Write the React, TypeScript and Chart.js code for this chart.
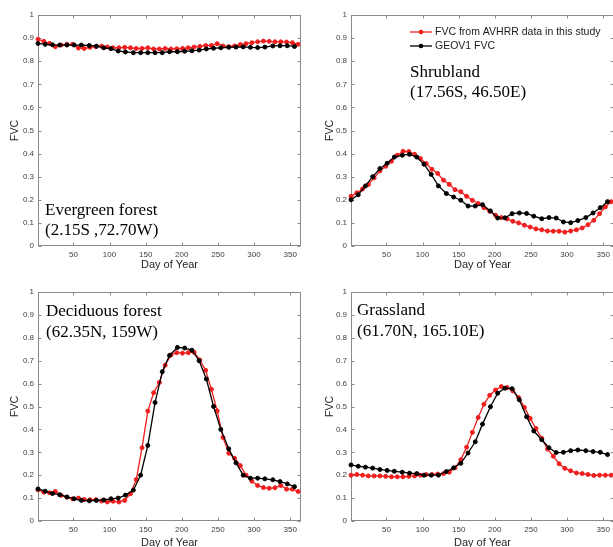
import React, { useEffect, useRef } from 'react';
import { Chart, registerables } from 'chart.js';

Chart.register(...registerables);
Chart.defaults.font.family = '"Liberation Sans", Arial, sans-serif';

// 8-day AVHRR composites
const avhrrDays = [1, 9, 17, 25, 33, 41, 49, 57, 65, 73, 81, 89, 97, 105, 113, 121, 129, 137, 145, 153, 161, 169, 177, 185, 193, 201, 209, 217, 225, 233, 241, 249, 257, 265, 273, 281, 289, 297, 305, 313, 321, 329, 337, 345, 353, 361];
// 10-day GEOV1 product
const geov1Days = [1, 11, 21, 31, 41, 51, 61, 72, 82, 92, 102, 112, 122, 133, 143, 153, 163, 173, 183, 194, 204, 214, 224, 234, 244, 254, 265, 275, 285, 295, 305, 315, 326, 336, 346, 356];

const xTicks = [50, 100, 150, 200, 250, 300, 350];
const yTicks = [0, 0.1, 0.2, 0.3, 0.4, 0.5, 0.6, 0.7, 0.8, 0.9, 1];
const yTickLabels = ['0', '0.1', '0.2', '0.3', '0.4', '0.5', '0.6', '0.7', '0.8', '0.9', '1'];
const legendLabels = ['FVC from AVHRR data in this study', 'GEOV1 FVC'];

const evergreenAvhrr = [0.895, 0.886, 0.877, 0.863, 0.870, 0.873, 0.873, 0.857, 0.855, 0.860, 0.863, 0.865, 0.862, 0.858, 0.858, 0.860, 0.858, 0.855, 0.855, 0.858, 0.853, 0.853, 0.855, 0.853, 0.854, 0.855, 0.858, 0.861, 0.864, 0.868, 0.868, 0.876, 0.866, 0.863, 0.866, 0.872, 0.876, 0.880, 0.884, 0.887, 0.886, 0.884, 0.884, 0.883, 0.880, 0.873];
const evergreenGeov1 = [0.877, 0.873, 0.871, 0.870, 0.870, 0.870, 0.870, 0.868, 0.865, 0.858, 0.854, 0.844, 0.840, 0.837, 0.837, 0.837, 0.837, 0.837, 0.841, 0.841, 0.843, 0.845, 0.848, 0.853, 0.856, 0.858, 0.860, 0.861, 0.862, 0.860, 0.859, 0.861, 0.866, 0.867, 0.867, 0.864];

const shrubAvhrr = [0.215, 0.230, 0.247, 0.266, 0.295, 0.325, 0.345, 0.367, 0.393, 0.410, 0.409, 0.397, 0.379, 0.357, 0.332, 0.314, 0.285, 0.267, 0.244, 0.235, 0.215, 0.198, 0.184, 0.166, 0.150, 0.133, 0.123, 0.117, 0.107, 0.100, 0.090, 0.082, 0.074, 0.070, 0.065, 0.064, 0.064, 0.060, 0.065, 0.070, 0.078, 0.092, 0.111, 0.140, 0.169, 0.192];
const shrubGeov1 = [0.200, 0.222, 0.260, 0.300, 0.335, 0.358, 0.385, 0.393, 0.397, 0.385, 0.354, 0.310, 0.260, 0.227, 0.212, 0.198, 0.173, 0.173, 0.179, 0.152, 0.121, 0.122, 0.140, 0.143, 0.141, 0.129, 0.118, 0.123, 0.121, 0.104, 0.101, 0.110, 0.123, 0.143, 0.166, 0.192];

const deciduousAvhrr = [0.136, 0.126, 0.123, 0.129, 0.112, 0.104, 0.097, 0.100, 0.094, 0.093, 0.093, 0.087, 0.083, 0.086, 0.083, 0.090, 0.119, 0.181, 0.320, 0.480, 0.560, 0.605, 0.680, 0.725, 0.735, 0.733, 0.735, 0.737, 0.703, 0.658, 0.575, 0.481, 0.365, 0.296, 0.274, 0.242, 0.200, 0.174, 0.155, 0.146, 0.143, 0.145, 0.155, 0.139, 0.139, 0.129];
const deciduousGeov1 = [0.140, 0.130, 0.120, 0.115, 0.105, 0.097, 0.090, 0.088, 0.090, 0.092, 0.097, 0.100, 0.113, 0.135, 0.200, 0.330, 0.517, 0.652, 0.723, 0.758, 0.755, 0.746, 0.700, 0.620, 0.500, 0.400, 0.315, 0.254, 0.200, 0.187, 0.187, 0.184, 0.180, 0.172, 0.162, 0.150];

const grassAvhrr = [0.200, 0.203, 0.200, 0.197, 0.197, 0.197, 0.195, 0.193, 0.193, 0.193, 0.195, 0.197, 0.200, 0.203, 0.203, 0.205, 0.207, 0.213, 0.232, 0.268, 0.322, 0.387, 0.452, 0.510, 0.549, 0.572, 0.587, 0.583, 0.568, 0.539, 0.496, 0.448, 0.404, 0.361, 0.314, 0.283, 0.250, 0.230, 0.219, 0.210, 0.207, 0.203, 0.199, 0.200, 0.200, 0.200];
const grassGeov1 = [0.245, 0.239, 0.235, 0.231, 0.225, 0.221, 0.217, 0.213, 0.209, 0.207, 0.200, 0.200, 0.200, 0.216, 0.232, 0.252, 0.297, 0.346, 0.423, 0.499, 0.558, 0.580, 0.578, 0.529, 0.455, 0.393, 0.355, 0.320, 0.299, 0.300, 0.307, 0.310, 0.307, 0.303, 0.300, 0.290];

const RED = '#f01e1e';
const BLACK = '#000000';

type PanelDef = {
  left: number; top: number; w: number; h: number; plotH: number;
  yTitlePad: number; tickPad: number;
  red: number[]; black: number[];
  lines: string[]; textX: number; textY: number[];
  legend: boolean;
};

const panels: PanelDef[] = [
  { left: 0, top: 0, w: 306, h: 272, plotH: 231, yTitlePad: 9, tickPad: 3.5, red: evergreenAvhrr, black: evergreenGeov1, lines: ['Evergreen forest', '(2.15S ,72.70W)'], textX: 45, textY: [215, 235], legend: false },
  { left: 313, top: 0, w: 306, h: 272, plotH: 231, yTitlePad: 11, tickPad: 3.5, red: shrubAvhrr, black: shrubGeov1, lines: ['Shrubland', '(17.56S, 46.50E)'], textX: 97, textY: [77, 97], legend: true },
  { left: 0, top: 277, w: 306, h: 273, plotH: 229, yTitlePad: 9, tickPad: 4, red: deciduousAvhrr, black: deciduousGeov1, lines: ['Deciduous forest', '(62.35N, 159W)'], textX: 46, textY: [39, 60], legend: false },
  { left: 313, top: 277, w: 306, h: 273, plotH: 229, yTitlePad: 11, tickPad: 4, red: grassAvhrr, black: grassGeov1, lines: ['Grassland', '(61.70N, 165.10E)'], textX: 44, textY: [38, 59], legend: false },
];

const boxPlugin = {
  id: 'boxTicks',
  beforeDatasetsDraw(chart: any) {
    const { ctx, chartArea: a, scales } = chart;
    const L = Math.round(a.left) + 0.5;
    const R = Math.round(a.right) - 0.5;
    const T = Math.round(a.top) + 0.5;
    const B = Math.round(a.bottom) - 0.5;
    ctx.save();
    ctx.strokeStyle = '#8a8a8a';
    ctx.lineWidth = 1;
    ctx.strokeRect(L, T, R - L, B - T);
    ctx.beginPath();
    scales.x.ticks.forEach((t: any) => {
      const px = Math.round(scales.x.getPixelForValue(t.value)) + 0.5;
      ctx.moveTo(px, B); ctx.lineTo(px, B - 3);
      ctx.moveTo(px, T); ctx.lineTo(px, T + 3);
    });
    scales.y.ticks.forEach((t: any) => {
      const py = Math.round(scales.y.getPixelForValue(t.value)) + 0.5;
      ctx.moveTo(L, py); ctx.lineTo(L + 3, py);
      ctx.moveTo(R, py); ctx.lineTo(R - 3, py);
    });
    ctx.stroke();
    ctx.restore();
  },
};

function Panel({ p }: { p: PanelDef }) {
  const ref = useRef<HTMLCanvasElement>(null);
  useEffect(() => {
    if (!ref.current) return;
    const decor = {
      id: 'panelDecor',
      afterDatasetsDraw(chart: any) {
        const ctx = chart.ctx;
        ctx.save();
        ctx.fillStyle = '#000';
        ctx.textAlign = 'left';
        ctx.textBaseline = 'alphabetic';
        ctx.font = '17px "Liberation Serif", "Times New Roman", serif';
        p.lines.forEach((t, i) => ctx.fillText(t, p.textX, p.textY[i]));
        if (p.legend) {
          const colors = [RED, BLACK];
          const rows = [32, 46];
          ctx.font = '10.5px "Liberation Sans", Arial, sans-serif';
          ctx.textBaseline = 'middle';
          chart.data.datasets.forEach((ds: any, i: number) => {
            const y = rows[i];
            ctx.strokeStyle = colors[i];
            ctx.fillStyle = colors[i];
            ctx.lineWidth = 1.3;
            ctx.beginPath();
            ctx.moveTo(97, y); ctx.lineTo(119, y);
            ctx.stroke();
            ctx.beginPath();
            ctx.arc(108, y, 2.3, 0, Math.PI * 2);
            ctx.fill();
            ctx.fillStyle = '#1a1a1a';
            ctx.fillText(ds.label, 122, y);
          });
        }
        ctx.restore();
      },
    };
    const chart = new Chart(ref.current, {
      type: 'line',
      data: {
        datasets: [
          {
            label: legendLabels[0],
            data: avhrrDays.map((d, i) => ({ x: d, y: p.red[i] })),
            borderColor: RED, backgroundColor: RED,
            pointBackgroundColor: RED, pointBorderColor: RED,
            borderWidth: 1.3, pointRadius: 2, pointBorderWidth: 1,
            tension: 0, clip: false as any, order: 1,
          },
          {
            label: legendLabels[1],
            data: geov1Days.map((d, i) => ({ x: d, y: p.black[i] })),
            borderColor: BLACK, backgroundColor: BLACK,
            pointBackgroundColor: BLACK, pointBorderColor: BLACK,
            borderWidth: 1.3, pointRadius: 2, pointBorderWidth: 1,
            tension: 0, clip: false as any, order: 0,
          },
        ],
      },
      options: {
        responsive: false,
        animation: false,
        devicePixelRatio: 1,
        events: [],
        layout: { padding: { left: 0, top: 15, right: 5, bottom: 0 } },
        plugins: { legend: { display: false }, tooltip: { enabled: false } },
        scales: {
          x: {
            type: 'linear', min: 1, max: 365,
            grid: { display: false, drawTicks: false }, border: { display: false },
            afterBuildTicks: (s: any) => { s.ticks = xTicks.map((v) => ({ value: v })); },
            afterFit: (s: any) => { s.height = p.h - 15 - p.plotH; },
            ticks: { padding: p.tickPad, color: '#404040', font: { size: 8 }, maxRotation: 0, autoSkip: false, callback: (v: any) => String(v) },
            title: { display: true, text: 'Day of Year', color: '#262626', font: { size: 11 }, padding: { top: 0, bottom: 0 } },
          },
          y: {
            type: 'linear', min: 0, max: 1,
            grid: { display: false, drawTicks: false }, border: { display: false },
            afterBuildTicks: (s: any) => { s.ticks = yTicks.map((v) => ({ value: v })); },
            afterFit: (s: any) => { s.width = 38; },
            ticks: { padding: 4, color: '#404040', font: { size: 8 }, autoSkip: false, callback: (_v: any, i: number) => yTickLabels[i] },
            title: { display: true, text: 'FVC', color: '#262626', font: { size: 10.5 }, padding: { top: p.yTitlePad, bottom: 0 } },
          },
        },
      } as any,
      plugins: [boxPlugin, decor],
    });
    return () => chart.destroy();
  }, []);
  return (
    <canvas
      ref={ref}
      width={p.w}
      height={p.h}
      style={{ position: 'absolute', left: p.left, top: p.top, width: p.w, height: p.h }}
    />
  );
}

export default function App() {
  return (
    <div style={{ position: 'fixed', left: 0, top: 0, width: 613, height: 547, overflow: 'hidden', background: '#ffffff' }}>
      {panels.map((p, i) => (
        <Panel key={i} p={p} />
      ))}
    </div>
  );
}
